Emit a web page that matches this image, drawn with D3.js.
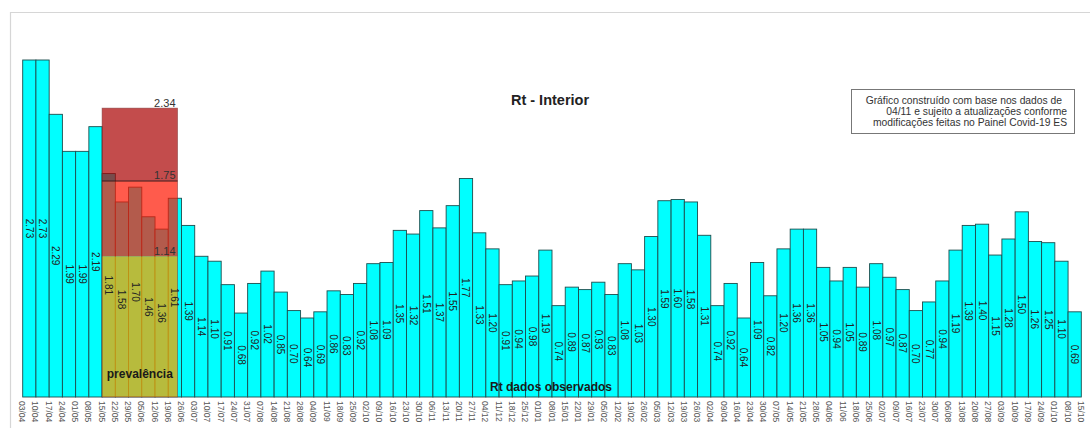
<!DOCTYPE html>
<html>
<head>
<meta charset="utf-8">
<script src="https://cdn.jsdelivr.net/npm/d3@7"></script>
<style>
  body { margin: 0; background: #fff; }
  svg { display: block; font-family: "Liberation Sans", Arial, sans-serif; }
</style>
</head>
<body>
<svg id="chart"></svg>
<script>
// weekly dates (week start), last one closes the final bar
const dates = [
  '03/04','10/04','17/04','24/04','01/05','08/05','15/05','22/05','29/05','05/06',
  '12/06','19/06','26/06','03/07','10/07','17/07','24/07','31/07','07/08','14/08',
  '21/08','28/08','04/09','11/09','18/09','25/09','02/10','09/10','16/10','23/10',
  '30/10','06/11','13/11','20/11','27/11','04/12','11/12','18/12','25/12','01/01',
  '08/01','15/01','22/01','29/01','05/02','12/02','19/02','26/02','05/03','12/03',
  '19/03','26/03','02/04','09/04','16/04','23/04','30/04','07/05','14/05','21/05',
  '28/05','04/06','11/06','18/06','25/06','02/07','09/07','16/07','23/07','30/07',
  '06/08','13/08','20/08','27/08','03/09','10/09','17/09','24/09','01/10','08/10',
  '15/10'
];

const rtValues = [
  2.73, 2.73, 2.29, 1.99, 1.99, 2.19, 1.81, 1.58, 1.70, 1.46,
  1.36, 1.61, 1.39, 1.14, 1.10, 0.91, 0.68, 0.92, 1.02, 0.85,
  0.70, 0.64, 0.69, 0.86, 0.83, 0.92, 1.08, 1.09, 1.35, 1.32,
  1.51, 1.37, 1.55, 1.77, 1.33, 1.20, 0.91, 0.94, 0.98, 1.19,
  0.74, 0.89, 0.87, 0.93, 0.83, 1.08, 1.03, 1.30, 1.59, 1.60,
  1.58, 1.31, 0.74, 0.92, 0.64, 1.09, 0.82, 1.20, 1.36, 1.36,
  1.05, 0.94, 1.05, 0.89, 1.08, 0.97, 0.87, 0.70, 0.77, 0.94,
  1.19, 1.39, 1.40, 1.15, 1.28, 1.50, 1.26, 1.25, 1.10, 0.69
];

// prevalence bands (lower, upper)
const prevalenceBands = [
  { low: 0,    high: 1.14, fill: 'rgb(240,165,0)', opacity: 0.76 },
  { low: 1.14, high: 1.75, fill: 'rgb(255,21,0)',  opacity: 0.70 },
  { low: 1.75, high: 2.34, fill: 'rgb(170,0,0)',   opacity: 0.70 }
];
const prevalenceLimits = [2.34, 1.75, 1.14];
const prevalenceStart = '15/05';
const prevalenceEnd = '19/06';

const noteLines = [
  'Gráfico construído com base nos dados de',
  '04/11  e sujeito a atualizações conforme',
  'modificações feitas no Painel Covid-19 ES'
];

const W = 1090, H = 428;
const svg = d3.select('#chart').attr('width', W).attr('height', H);

// light frame
svg.append('path')
  .attr('d', `M10.5,${H} V12.5 H${W}`)
  .attr('fill', 'none')
  .attr('stroke', '#d6d6d6')
  .attr('stroke-width', 1.2);

const data = rtValues.map((v, i) => ({ date: dates[i], value: v }));

const left = 22.7, right = 1081.3;
const x = d3.scaleBand()
  .domain(data.map(d => d.date))
  .range([left, right])
  .paddingInner(0).paddingOuter(0);

// tick positions at bar edges (81 dates)
const xEdge = d3.scalePoint()
  .domain(dates)
  .range([left, right])
  .padding(0);

const y = d3.scaleLinear()
  .domain([0, 2.73])
  .range([397, 60]);

// bars
svg.append('g')
  .selectAll('rect')
  .data(data)
  .join('rect')
  .attr('x', d => x(d.date))
  .attr('y', d => y(d.value))
  .attr('width', x.bandwidth())
  .attr('height', d => y(0) - y(d.value))
  .attr('fill', '#00ffff')
  .attr('stroke', '#1d4d4d')
  .attr('stroke-width', 0.9);

// prevalence overlay
const px0 = x(prevalenceStart);
const px1 = x(prevalenceEnd) + x.bandwidth() * 0.7;
const ov = svg.append('g');
ov.selectAll('rect')
  .data(prevalenceBands)
  .join('rect')
  .attr('x', px0)
  .attr('width', px1 - px0)
  .attr('y', d => y(d.high))
  .attr('height', d => y(d.low) - y(d.high))
  .attr('fill', d => d.fill)
  .attr('fill-opacity', d => d.opacity);

ov.append('rect')
  .attr('x', px0).attr('width', px1 - px0)
  .attr('y', y(2.34)).attr('height', y(0) - y(2.34))
  .attr('fill', 'none')
  .attr('stroke', '#7a3030')
  .attr('stroke-opacity', 0.6)
  .attr('stroke-width', 0.8);

ov.append('line')
  .attr('x1', px0).attr('x2', px1)
  .attr('y1', y(1.75)).attr('y2', y(1.75))
  .attr('stroke', '#3a1a1a')
  .attr('stroke-width', 1.1);

ov.selectAll('text.lim')
  .data(prevalenceLimits)
  .join('text')
  .attr('class', 'lim')
  .attr('x', px1 - 2)
  .attr('y', d => y(d) - 1.5)
  .attr('text-anchor', 'end')
  .attr('font-size', 11)
  .attr('fill', '#333')
  .text(d => d.toFixed(2));

ov.append('text')
  .attr('x', (px0 + px1) / 2)
  .attr('y', 378)
  .attr('text-anchor', 'middle')
  .attr('font-size', 12)
  .attr('font-weight', 'bold')
  .attr('fill', '#1a1a1a')
  .text('prevalência');

// value labels, rotated, centred in each bar
svg.append('g')
  .selectAll('text')
  .data(data)
  .join('text')
  .attr('transform', d => `translate(${x(d.date) + x.bandwidth() / 2},${(y(d.value) + y(0)) / 2}) rotate(90)`)
  .attr('text-anchor', 'middle')
  .attr('dy', '0.35em')
  .attr('font-size', 10)
  .attr('fill', '#222')
  .text(d => d.value.toFixed(2));

// date labels
svg.append('g')
  .selectAll('text')
  .data(dates)
  .join('text')
  .attr('transform', d => `translate(${xEdge(d) - 0.5},401) rotate(90)`)
  .attr('text-anchor', 'start')
  .attr('dy', '0.35em')
  .attr('font-size', 8.5)
  .attr('fill', '#555')
  .text(d => d);

// titles
svg.append('text')
  .attr('x', 550).attr('y', 105)
  .attr('text-anchor', 'middle')
  .attr('font-size', 14.5)
  .attr('font-weight', 'bold')
  .attr('fill', '#222')
  .text('Rt - Interior');

svg.append('text')
  .attr('x', 551).attr('y', 391)
  .attr('text-anchor', 'middle')
  .attr('font-size', 12)
  .attr('font-weight', 'bold')
  .attr('fill', '#1a1a1a')
  .text('Rt dados observados');

// note box
svg.append('rect')
  .attr('x', 851.5).attr('y', 89.5)
  .attr('width', 223).attr('height', 44)
  .attr('fill', '#fff')
  .attr('stroke', '#777')
  .attr('stroke-width', 1);

svg.append('g')
  .selectAll('text')
  .data(noteLines)
  .join('text')
  .attr('x', (d, i) => i === 0 ? 1062 : 1067)
  .attr('y', (d, i) => 103.5 + i * 11.3)
  .attr('text-anchor', 'end')
  .attr('font-size', 10.3)
  .attr('fill', '#333')
  .text(d => d);
</script>
</body>
</html>
